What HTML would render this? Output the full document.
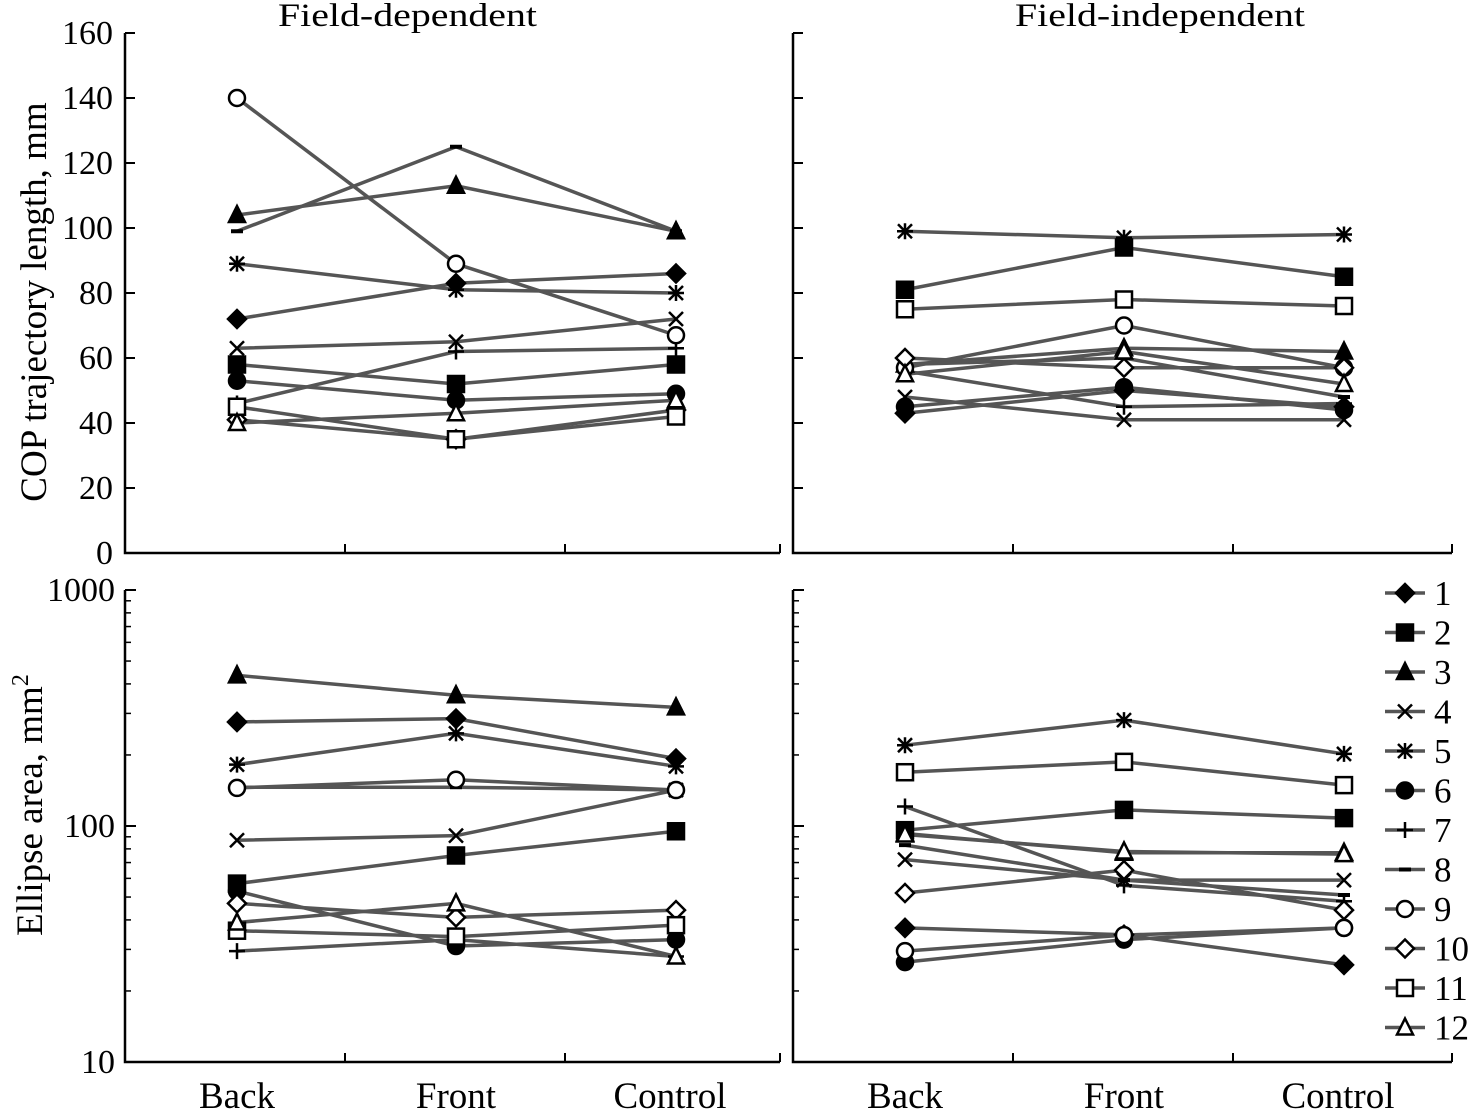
<!DOCTYPE html>
<html><head><meta charset="utf-8"><style>
html,body{margin:0;padding:0;background:#fff}
svg text{font-family:"Liberation Serif",serif;fill:#000}
</style></head><body>
<svg id="c" width="1473" height="1112" viewBox="0 0 1473 1112" xmlns="http://www.w3.org/2000/svg"></svg>
<script>
const categories=["Back","Front","Control"];
const subjects=["1","2","3","4","5","6","7","8","9","10","11","12"];
const markers=["dfill","sfill","tfill","x","star","cfill","plus","dash","c","d","s","t"];
const copDep=[[72,83,86],[58,52,58],[104,113,99],[63,65,72],[89,81,80],[53,47,49],[46,62,63],[99,125,99],[140,89,67],[41,35,44],[45,35,42],[40,43,47]];
const copInd=[[43,50,45],[81,94,85],[58,63,62],[48,41,41],[99,97,98],[45,51,44],[56,45,46],[58,60,48],[57,70,57],[60,57,57],[75,78,76],[55,62,52]];
const areaDep=[[276,285,193],[57,75,95],[435,358,318],[87,91,142],[182,247,179],[53,31,33],[29.5,33,28],[146,146,142],[145,157,142],[47,41,44],[36,34,38],[39,47,28]];
const areaInd=[[37,34.6,25.8],[96,117,108],[93,77,77],[72,59,59],[220,281,202],[26.5,33,37],[121,56,48],[83,59,51],[29.5,34.5,37],[52,65,44],[169,187,149],[92,78,76]];
const linTicks=[0,20,40,60,80,100,120,140,160];
const logTicks=[10,100,1000];

const NS="http://www.w3.org/2000/svg";
const svg=document.getElementById('c');
function el(t,a,p){const e=document.createElementNS(NS,t);for(const k in a)e.setAttribute(k,a[k]);(p||svg).appendChild(e);return e;}
function txt(s,a,p){const e=el('text',a,p);e.textContent=s;return e;}
const yLin=v=>553-v*3.25;
const yLog=v=>1062-(Math.log10(v)-1)*236;
function marker(g,m,x,y){
  const k='#000';
  if(m==='dfill'||m==='d'){el('polygon',{points:`${x},${y-9} ${x+9},${y} ${x},${y+9} ${x-9},${y}`,fill:m==='d'?'#fff':k,stroke:k,'stroke-width':2.5},g);}
  else if(m==='sfill'||m==='s'){el('rect',{x:x-8,y:y-8,width:16,height:16,fill:m==='s'?'#fff':k,stroke:k,'stroke-width':2.5},g);}
  else if(m==='tfill'||m==='t'){el('polygon',{points:`${x},${y-9} ${x+8},${y+7} ${x-8},${y+7}`,fill:m==='t'?'#fff':k,stroke:k,'stroke-width':2.5},g);}
  else if(m==='cfill'||m==='c'){el('circle',{cx:x,cy:y,r:8,fill:m==='c'?'#fff':k,stroke:k,'stroke-width':2.5},g);}
  else if(m==='x'){el('path',{d:`M${x-7} ${y-7}L${x+7} ${y+7}M${x+7} ${y-7}L${x-7} ${y+7}`,stroke:k,'stroke-width':2.5,fill:'none'},g);}
  else if(m==='star'){el('path',{d:`M${x-7} ${y-7}L${x+7} ${y+7}M${x+7} ${y-7}L${x-7} ${y+7}M${x-8} ${y}L${x+8} ${y}M${x} ${y-8}L${x} ${y+8}`,stroke:k,'stroke-width':2.5,fill:'none'},g);}
  else if(m==='plus'){el('path',{d:`M${x-8} ${y}L${x+8} ${y}M${x} ${y-8}L${x} ${y+8}`,stroke:k,'stroke-width':2.5,fill:'none'},g);}
  else if(m==='dash'){el('path',{d:`M${x-6} ${y}L${x+6} ${y}`,stroke:k,'stroke-width':4,fill:'none'},g);}
}
function panel(name,x0,x1,yTop,yBot,data,yf,showLabels,isLog){
  const g=el('g',{});
  
  
  const cx=[x0+112,x0+331,x0+551];
  const lx=[x0+112,x0+331,x0+545];
  el('path',{d:`M${x0} ${yTop}L${x0} ${yBot}L${x1} ${yBot}`,stroke:'#000','stroke-width':2.5,fill:'none'},g);
  [x0+220,x0+440,x1].forEach(t=>el('line',{x1:t,y1:yBot,x2:t,y2:yBot-9,stroke:'#000','stroke-width':2},g));
  if(!isLog){
    linTicks.forEach(v=>{const y=yf(v);el('line',{x1:x0,y1:y,x2:x0+10,y2:y,stroke:'#000','stroke-width':2},g);
      if(showLabels){const t=txt(String(v),{x:x0-12,y:y+11,'font-size':34,'text-anchor':'end'},g);}});
  } else {
    for(let d=10;d<1000;d*=10){for(let i=2;i<=9;i++){const y=yf(d*i);el('line',{x1:x0,y1:y,x2:x0+6,y2:y,stroke:'#000','stroke-width':1.5},g);}}
    logTicks.forEach(v=>{const y=yf(v);el('line',{x1:x0,y1:y,x2:x0+11,y2:y,stroke:'#000','stroke-width':2},g);
      if(showLabels){const t=txt(String(v),{x:x0-10,y:y+11,'font-size':34,'text-anchor':'end'},g);}});
    categories.forEach((c,i)=>{const t=txt(c,{x:lx[i],y:1108,'font-size':37,'text-anchor':'middle'},g);});
  }
  data.forEach((s,si)=>{
    const sg=el('g',{},g);
    
    
    el('polyline',{points:s.map((v,i)=>`${cx[i]},${yf(v)}`).join(' '),stroke:'#555','stroke-width':3.5,fill:'none'},sg);
  });
  data.forEach((s,si)=>{s.forEach((v,i)=>marker(g,markers[si],cx[i],yf(v)));});
}
panel('panel-cop-field-dependent',125,780,33,553,copDep,yLin,true,false);
panel('panel-cop-field-independent',793,1452,33,553,copInd,yLin,false,false);
panel('panel-area-field-dependent',125,780,590,1062,areaDep,yLog,true,true);
panel('panel-area-field-independent',793,1452,590,1062,areaInd,yLog,false,true);

let t=txt('Field-dependent',{x:278,y:26,'font-size':33,textLength:259,lengthAdjust:'spacingAndGlyphs'});
t=txt('Field-independent',{x:1015,y:26,'font-size':33,textLength:290,lengthAdjust:'spacingAndGlyphs'});
t=txt('COP trajectory length, mm',{x:0,y:0,'font-size':37,'text-anchor':'middle',transform:'translate(46,302) rotate(-90)'});
t=el('text',{x:0,y:0,'font-size':37,'text-anchor':'middle',transform:'translate(42,805) rotate(-90)'});t.innerHTML='Ellipse area, mm<tspan dy="-14" font-size="24">2</tspan>';

const lg=el('g',{});


subjects.forEach((s,i)=>{
  const y=593+i*39.5;
  const e=el('g',{},lg);
  
  
  el('line',{x1:1385,y1:y,x2:1425,y2:y,stroke:'#555','stroke-width':3.5},e);
  marker(e,markers[i],1405,y);
  txt(s,{x:1434,y:y+12,'font-size':35},e);
});
</script>
</body></html>
